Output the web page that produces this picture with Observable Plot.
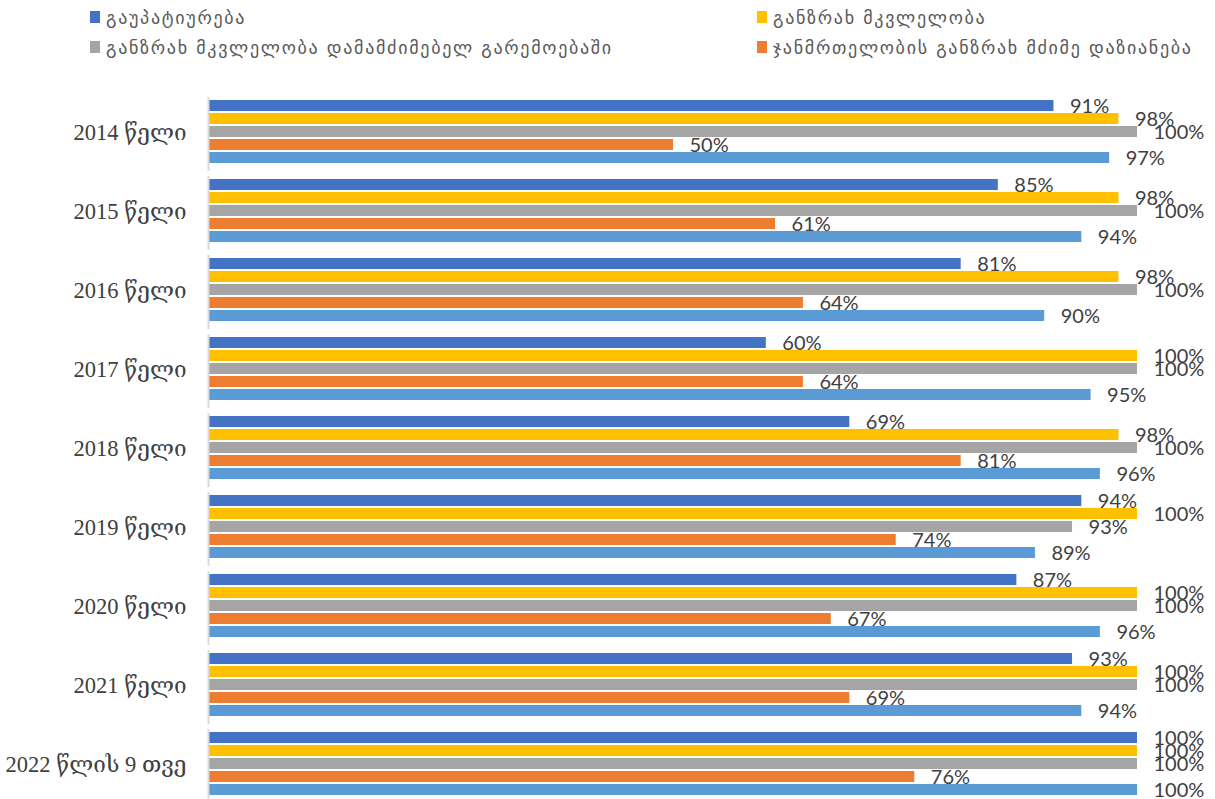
<!DOCTYPE html>
<html>
<head>
<meta charset="utf-8">
<script src="https://cdn.jsdelivr.net/npm/d3@7"></script>
<script src="https://cdn.jsdelivr.net/npm/@observablehq/plot@0.6"></script>
<style>
  html, body { margin: 0; padding: 0; background: #fff; overflow: hidden; }
  #wrap { position: relative; width: 1215px; height: 799px; overflow: hidden; }
  .leg { position: absolute; display: flex; align-items: center; font-family: "DejaVu Sans", sans-serif; font-size: 18px; letter-spacing: 1.7px; color: #595959; white-space: nowrap; }
  .sw { width: 10px; height: 12px; margin-right: 6px; }
  #chart { position: absolute; left: 0; top: 0; }
</style>
</head>
<body>
<div id="wrap">
  <div id="legend"></div>
  <div id="chart"></div>
</div>
<script>
const years = ["2014 წელი", "2015 წელი", "2016 წელი", "2017 წელი", "2018 წელი", "2019 წელი", "2020 წელი", "2021 წელი", "2022 წლის 9 თვე"];
const seriesNames = [
  "გაუპატიურება",
  "განზრახ მკვლელობა",
  "განზრახ მკვლელობა დამამძიმებელ გარემოებაში",
  "ჯანმრთელობის განზრახ მძიმე დაზიანება",
  "სულ"
];
const colors = ["#4472C4", "#FFC000", "#A5A5A5", "#ED7D31", "#5B9BD5"];
const rape       = [91, 85, 81, 60, 69, 94, 87, 93, 100];
const murder     = [98, 98, 98, 100, 98, 100, 100, 100, 100];
const aggMurder  = [100, 100, 100, 100, 100, 93, 100, 100, 100];
const injury     = [50, 61, 64, 64, 81, 74, 67, 69, 76];
const total      = [97, 94, 90, 95, 96, 89, 96, 94, 100];
const seriesValues = [rape, murder, aggMurder, injury, total];
const legendShown = 4;

const rows = [];
years.forEach((yr, i) => {
  seriesNames.forEach((s, j) => {
    rows.push({year: yr, series: s, value: seriesValues[j][i]});
  });
});

// legend
const legendPos = [[90, 17], [757, 17], [90, 47], [757, 47]];
const legend = document.getElementById("legend");
seriesNames.slice(0, legendShown).forEach((s, j) => {
  const d = document.createElement("div");
  d.className = "leg";
  d.style.left = legendPos[j][0] + "px";
  d.style.top = (legendPos[j][1] - 11) + "px";
  d.style.height = "22px";
  d.innerHTML = `<span class="sw" style="background:${colors[j]}"></span><span>${s}</span>`;
  legend.appendChild(d);
});

const chart = Plot.plot({
  width: 1215,
  height: 803,
  marginLeft: 209,
  marginRight: 78,
  marginTop: 92,
  marginBottom: 0,
  style: {fontFamily: "Lato, sans-serif", background: "transparent"},
  x: {domain: [0, 100], axis: null},
  y: {domain: seriesNames, axis: null, paddingInner: 0.15, paddingOuter: 0.614, round: false},
  fy: {domain: years, axis: null, padding: 0, round: false},
  color: {domain: seriesNames, range: colors},
  marks: [
    Plot.barX(rows, {x: "value", y: "series", fy: "year", fill: "series"}),
    Plot.text(rows, {x: "value", y: "series", fy: "year", text: d => d.value + "%", textAnchor: "start", dx: 16, dy: 1, fontSize: 20, fill: "#404040", fontFamily: "Lato, sans-serif"}),
    Plot.text(years, {fy: d => d, text: d => d, frameAnchor: "left", textAnchor: "end", dx: -23, dy: 1, fontSize: 22.5, fill: "#404040", fontFamily: "'Liberation Serif', 'DejaVu Serif', serif"}),
    Plot.ruleX([0], {stroke: "#d9d9d9", strokeWidth: 2, dx: -1, insetTop: 5})
  ]
});
document.getElementById("chart").appendChild(chart);
</script>
</body>
</html>
